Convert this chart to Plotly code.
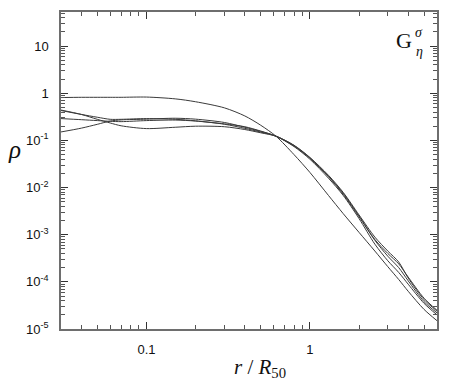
import plotly.graph_objects as go

# radius in units of R50
r_vals = [0.03, 0.04, 0.05, 0.06, 0.07, 0.1, 0.15, 0.2, 0.3, 0.4, 0.5, 0.62,
          0.8, 1.0, 1.3, 1.6, 2.0, 2.5, 3.0, 3.5, 4.0, 5.0, 6.0]

# density profiles
rho_a = [0.81, 0.82, 0.82, 0.82, 0.82, 0.83, 0.76, 0.66, 0.49, 0.33, 0.21, 0.123,
         0.050, 0.021, 6.8e-3, 2.8e-3, 1.12e-3, 4.5e-4, 2.1e-4, 1.12e-4, 6.3e-5, 2.6e-5, 1.5e-5]
rho_b = [0.44, 0.355, 0.28, 0.234, 0.204, 0.178, 0.19, 0.20, 0.195, 0.17, 0.145, 0.123,
         0.079, 0.0437, 0.0182, 7.9e-3, 2.63e-3, 8.9e-4, 4.5e-4, 2.63e-4, 1.2e-4, 4.2e-5, 2.4e-5]
rho_c = [0.29, 0.275, 0.263, 0.254, 0.25, 0.263, 0.27, 0.257, 0.224, 0.195, 0.158, 0.123,
         0.076, 0.042, 0.017, 7.2e-3, 2.4e-3, 7.6e-4, 3.5e-4, 2.0e-4, 1.05e-4, 3.8e-5, 2.2e-5]
rho_d = [0.151, 0.182, 0.219, 0.257, 0.272, 0.282, 0.295, 0.282, 0.24, 0.19, 0.155, 0.123,
         0.074, 0.040, 0.0158, 6.8e-3, 2.2e-3, 6.3e-4, 2.8e-4, 1.58e-4, 8.9e-5, 3.5e-5, 2.0e-5]
rho_e = [0.43, 0.355, 0.31, 0.28, 0.28, 0.29, 0.28, 0.26, 0.22, 0.18, 0.15, 0.123,
         0.078, 0.043, 0.0174, 7.6e-3, 2.5e-3, 7.9e-4, 4.0e-4, 2.4e-4, 1.26e-4, 4.5e-5, 2.5e-5]

y_tickvals = [10, 1, 0.1, 0.01, 0.001, 1e-4, 1e-5]
y_ticktext = ["10", "1", "10<sup>-1</sup>", "10<sup>-2</sup>", "10<sup>-3</sup>",
              "10<sup>-4</sup>", "10<sup>-5</sup>"]
x_tickvals = [0.1, 1]
x_ticktext = ["0.1", "1"]

# minor tick positions: 2..9 within each decade shown
x_minor = [m * d for d in [0.01, 0.1, 1] for m in range(2, 10) if 0.03 <= m * d <= 6]
y_minor = [m * d for d in [1e-5, 1e-4, 1e-3, 1e-2, 0.1, 1, 10] for m in range(2, 10) if m * d <= 50]

LINE = "#3a3a3a"
AXIS = "#6e6e6e"

fig = go.Figure()
for rho in [rho_a, rho_b, rho_c, rho_d, rho_e]:
    fig.add_trace(go.Scatter(
        x=r_vals, y=rho, mode="lines",
        line=dict(color=LINE, width=1, shape="spline", smoothing=0.8),
        showlegend=False, hoverinfo="skip",
    ))

axis_common = dict(
    type="log",
    showline=True, linecolor=AXIS, linewidth=1.5,
    mirror="ticks", ticks="inside", tickcolor="#333", ticklen=7, tickwidth=1,
    showgrid=False, zeroline=False,
    tickfont=dict(family="Liberation Sans, Arial, sans-serif", size=13, color="#111"),
)

fig.update_layout(
    width=458, height=392,
    margin=dict(l=61, r=21, t=10, b=63),
    plot_bgcolor="white", paper_bgcolor="white",
    xaxis=dict(axis_common, range=[-1.5229, 0.7782],
               tickvals=x_tickvals, ticktext=x_ticktext, ticklabelstandoff=8,
               minor=dict(tickmode="array", tickvals=x_minor, ticks="inside",
                          ticklen=4, tickcolor="#555", showgrid=False)),
    yaxis=dict(axis_common, range=[-5, 1.723],
               tickvals=y_tickvals, ticktext=y_ticktext, ticklabelstandoff=8,
               minor=dict(tickmode="array", tickvals=y_minor, ticks="inside",
                          ticklen=4, tickcolor="#555", showgrid=False)),
)

serif = "Liberation Serif, DejaVu Serif, serif"


def label(x, y, text, size):
    fig.add_annotation(x=x, y=y, xref="paper", yref="paper", showarrow=False,
                       xanchor="center", yanchor="middle", text=text,
                       font=dict(family=serif, size=size, color="#111"))


label(-0.125, 0.565, "<i>ρ</i>", 25)
label(0.529, -0.122, "<i>r</i> / <i>R</i><sub>50</sub>", 21)
label(0.912, 0.909, "G", 22)
label(0.952, 0.935, "<i>σ</i>", 14)
label(0.954, 0.876, "<i>η</i>", 14)

fig.write_html("out.html", config={"displayModeBar": False},
               post_script="document.body.style.margin='0';")
